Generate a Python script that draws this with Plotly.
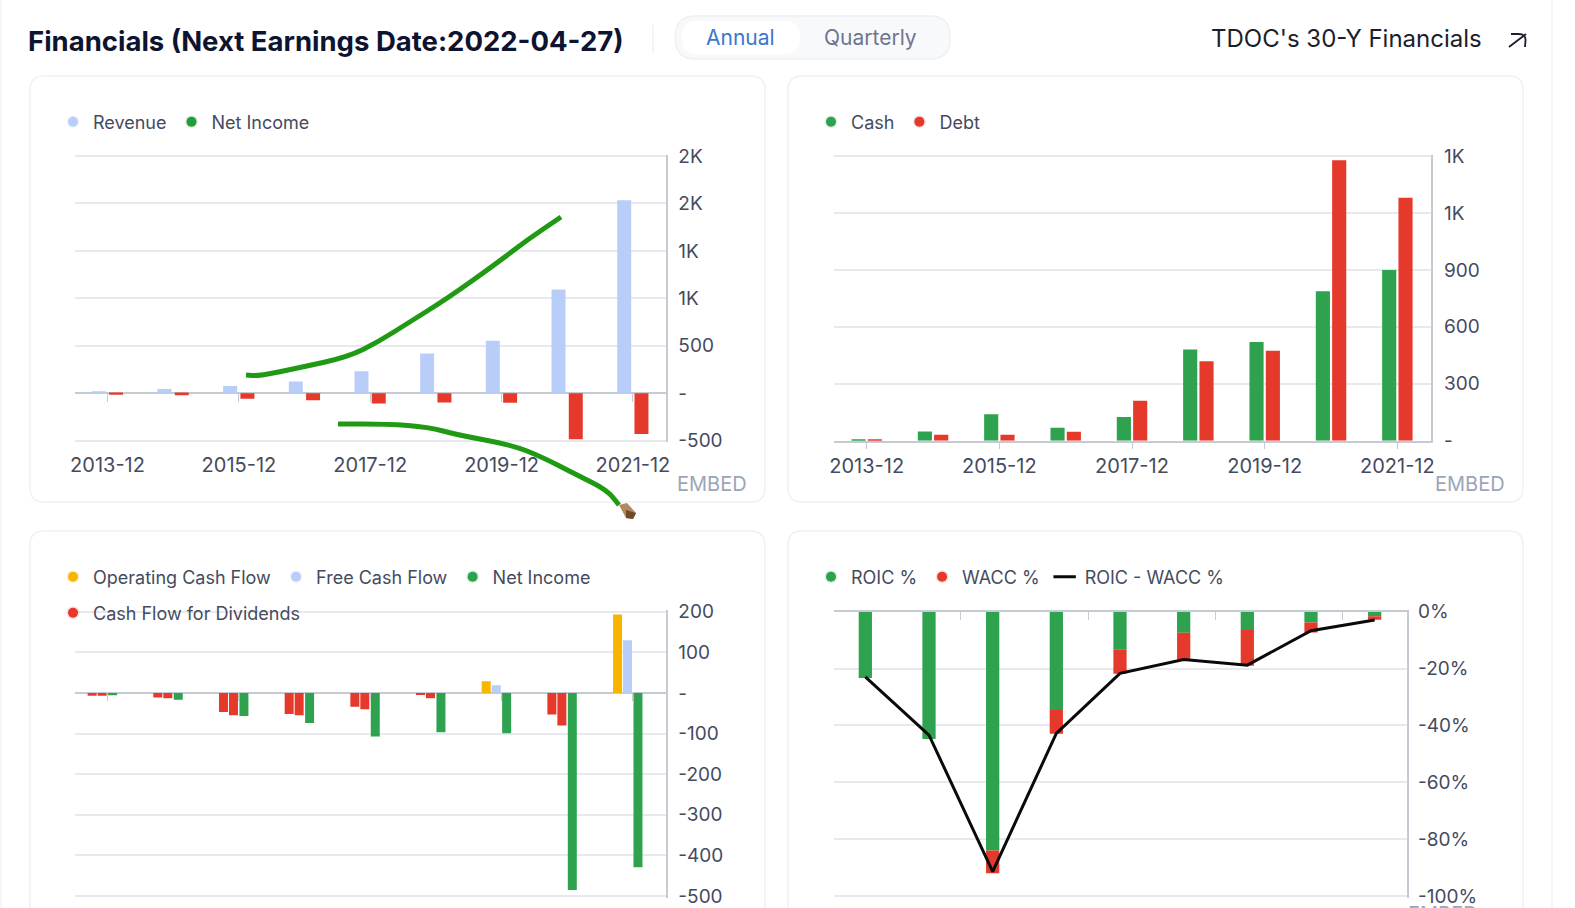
import plotly.graph_objects as go

W, H = 1575, 908
FONT = "Inter"
TXT = "#454b5e"
GRID = "#e7e9ef"
AXIS = "#c6cad2"
RED = "#e5392c"
GREEN = "#2ea24f"
LEG_GREEN = "#1f9e3a"
BLUE = "#b8cdf8"
YELLOW = "#f7b500"
STROKE = "#1f9a12"

years = ["2013-12", "2014-12", "2015-12", "2016-12", "2017-12", "2018-12", "2019-12", "2020-12", "2021-12"]

revenue = [20, 45, 77, 123, 233, 420, 553, 1094, 2033]
net_income = [-16, -20, -58, -74, -107, -97, -99, -485, -429]

cash = [8, 49, 140, 68, 125, 481, 520, 788, 899]
debt = [8, 31, 31, 47, 211, 418, 474, 1477, 1280]

op_cash_flow = [-7, -11, -47, -52, -34, -5, 29, -53, 193]
free_cash_flow = [-7, -13, -55, -55, -40, -13, 19, -80, 130]
net_income_cf = [-6, -17, -57, -74, -107, -97, -99, -485, -429]

roic = [-23.3, -44.8, -84.0, -34.6, -13.4, -7.4, -6.4, -3.8, -1.6]
wacc = [0, 0, -8.0, -8.3, -8.4, -9.4, -12.6, -3.5, -1.2]
roic_wacc = [-22.9, -43.4, -91.4, -42.8, -21.7, -16.8, -18.8, -6.7, -2.9]

ticks1 = [-500, 0, 500, 1000, 1500, 2000, 2500]
ticklabels1 = ["-500", "-", "500", "1K", "1K", "2K", "2K"]
ticks2 = [0, 300, 600, 900, 1200, 1500]
ticklabels2 = ["-", "300", "600", "900", "1K", "1K"]
ticks3 = [-500, -400, -300, -200, -100, 0, 100, 200]
ticklabels3 = ["-500", "-400", "-300", "-200", "-100", "-", "100", "200"]
ticks4 = [-100, -80, -60, -40, -20, 0]
ticklabels4 = ["-100%", "-80%", "-60%", "-40%", "-20%", "0%"]

stroke_upper = [(246, 375), (259, 376), (298, 368), (348, 357), (378, 342), (408, 323), (448, 298), (497, 263), (527, 240), (561, 217)]
stroke_lower = [(338, 424), (388, 424), (428, 427), (458, 435), (512, 445), (542, 457), (577, 475), (607, 490), (619, 505)]


def X(x):
    return x / W


def Y(y):
    return 1 - y / H


def rrect(x0, y0, x1, y1, r):
    pts = [
        f"M {X(x0 + r)} {Y(y0)}", f"L {X(x1 - r)} {Y(y0)}", f"Q {X(x1)} {Y(y0)} {X(x1)} {Y(y0 + r)}",
        f"L {X(x1)} {Y(y1 - r)}", f"Q {X(x1)} {Y(y1)} {X(x1 - r)} {Y(y1)}",
        f"L {X(x0 + r)} {Y(y1)}", f"Q {X(x0)} {Y(y1)} {X(x0)} {Y(y1 - r)}",
        f"L {X(x0)} {Y(y0 + r)}", f"Q {X(x0)} {Y(y0)} {X(x0 + r)} {Y(y0)}", "Z",
    ]
    return " ".join(pts)


def card(x0, y0, x1, y1, r=14, fill="#ffffff", line="#eef1f5", width=1.5):
    return dict(type="path", path=rrect(x0, y0, x1, y1, r), xref="paper", yref="paper",
                fillcolor=fill, line=dict(color=line, width=width), layer="below")


def polyline(points, color=STROKE, width=5):
    p = [f"M {X(points[0][0])} {Y(points[0][1])}"]
    for a, b in zip(points[:-1], points[1:]):
        mx, my = (a[0] + b[0]) / 2, (a[1] + b[1]) / 2
        p.append(f"Q {X(a[0])} {Y(a[1])} {X(mx)} {Y(my)}")
    p.append(f"L {X(points[-1][0])} {Y(points[-1][1])}")
    return dict(type="path", path=" ".join(p), xref="paper", yref="paper",
                line=dict(color=color, width=width), layer="above")


def polygon(points, fill):
    p = "M " + " L ".join(f"{X(a)} {Y(b)}" for a, b in points) + " Z"
    return dict(type="path", path=p, xref="paper", yref="paper", fillcolor=fill,
                line=dict(width=0), layer="above")


fig = go.Figure()


def bars(values, xa, ya, color, width, offset, base=None):
    fig.add_trace(go.Bar(x=years, y=values, xaxis=xa, yaxis=ya, marker=dict(color=color, line=dict(width=0)),
                         width=width, offset=offset, base=base, showlegend=False, hoverinfo="skip"))


def halo(c):
    r, g, b = int(c[1:3], 16), int(c[3:5], 16), int(c[5:7], 16)
    return f"rgba({r},{g},{b},0.16)"


def legend_item(name, color, legend, xa, ya, symbol="circle"):
    if symbol == "circle":
        m = dict(size=10, color=color, symbol="circle", line=dict(color=halo(color), width=3))
    else:
        m = dict(size=16, symbol=symbol, line=dict(color=color, width=3))
    fig.add_trace(go.Scatter(x=[None], y=[None], xaxis=xa, yaxis=ya, mode="markers", marker=m, name=name,
                             legend=legend, showlegend=True, hoverinfo="skip"))


# panel 1
bars(revenue, "x", "y", BLUE, 0.213, -0.24)
bars(net_income, "x", "y", RED, 0.213, 0.023)
legend_item("Revenue", BLUE, "legend", "x5", "y")
legend_item("Net Income", LEG_GREEN, "legend", "x5", "y")

# panel 2
bars(cash, "x2", "y2", GREEN, 0.213, -0.229)
bars(debt, "x2", "y2", RED, 0.213, 0.017)
legend_item("Cash", GREEN, "legend2", "x2", "y2")
legend_item("Debt", RED, "legend2", "x2", "y2")

# panel 3
bars(op_cash_flow, "x3", "y3", [YELLOW if v > 0 else RED for v in op_cash_flow], 0.137, -0.303)
bars(free_cash_flow, "x3", "y3", [BLUE if v > 0 else RED for v in free_cash_flow], 0.137, -0.151)
bars(net_income_cf, "x3", "y3", GREEN, 0.137, 0.008)
legend_item("Operating Cash Flow", YELLOW, "legend3", "x6", "y3")
legend_item("Free Cash Flow", BLUE, "legend3", "x6", "y3")
legend_item("Net Income", GREEN, "legend3", "x6", "y3")
legend_item("Cash Flow for Dividends", RED, "legend4", "x6", "y3")

# panel 4
bars(roic, "x4", "y4", GREEN, 0.208, -0.104)
bars(wacc, "x4", "y4", RED, 0.208, -0.104, base=roic)
fig.add_trace(go.Scatter(x=years, y=roic_wacc, xaxis="x4", yaxis="y4", mode="lines",
                         line=dict(color="#0a0a0a", width=3), showlegend=False, hoverinfo="skip"))
legend_item("ROIC %", GREEN, "legend5", "x4", "y4")
legend_item("WACC %", RED, "legend5", "x4", "y4")
legend_item("ROIC - WACC %", "#0a0a0a", "legend5", "x4", "y4", symbol="line-ew")

XFONT = dict(family=FONT, size=20, color=TXT)
YFONT = dict(family=FONT, size=19, color=TXT)


def xaxis(x0, x1, anchor, **kw):
    d = dict(domain=[X(x0), X(x1)], anchor=anchor, type="category", categoryorder="array", categoryarray=years,
             range=[-0.5, 8.5], dtick=2, tickangle=0, showgrid=False, zeroline=False, showline=False,
             tickfont=XFONT, fixedrange=True)
    d.update(kw)
    return d


def yaxis(y0, y1, anchor, lo, hi, vals, labels, pad_lo=1.5, pad_hi=1.5, **kw):
    # a small pad keeps the first and last gridlines from being dropped at the range ends
    u = (hi - lo) / (y1 - y0)
    d = dict(domain=[Y(y1 + pad_lo), Y(y0 - pad_hi)], anchor=anchor, side="right",
             range=[lo - pad_lo * u, hi + pad_hi * u], tickmode="array", tickvals=vals,
             ticktext=labels, showgrid=True, gridcolor=GRID, gridwidth=1.5, showline=True, linecolor=AXIS, linewidth=1.5,
             zeroline=False, ticks="outside", ticklen=7, tickcolor="rgba(0,0,0,0)", tickfont=YFONT, fixedrange=True)
    d.update(kw)
    return d


def legend(x, y):
    return dict(orientation="h", x=X(x), y=Y(y), xanchor="left", yanchor="middle", bgcolor="rgba(0,0,0,0)",
                font=dict(family=FONT, size=18, color=TXT), borderwidth=0, itemclick=False, itemdoubleclick=False,
                tracegroupgap=0, itemsizing="trace")


P1 = (74.7, 665.8, 156, 440.7)
P2 = (833.5, 1430.5, 156, 440.7)
P3 = (74.7, 665.8, 611.7, 896)
P4 = (833.5, 1406.5, 611.7, 896)

shapes = [
    card(1, -20, 1552, 940, r=22, line="#f1f3f6"),
    card(30, 76, 765, 502),
    card(788, 76, 1523, 502),
    card(30, 531, 765, 960),
    card(788, 531, 1523, 960),
    card(675.5, 16, 950, 59, r=20, fill="#f8f9fb", line="#eef0f3"),
    card(682, 21, 800, 54, r=16, fill="#ffffff", line="#ffffff", width=0.5),
    dict(type="line", xref="paper", yref="paper", x0=X(653), x1=X(653), y0=Y(25), y1=Y(53),
         line=dict(color="#eef0f3", width=1.5), layer="below"),
    polyline(stroke_upper),
    polyline(stroke_lower),
    polygon([(619, 505), (627, 503), (636, 513), (633, 519), (626, 518)], "#b08a5e"),
    polygon([(626, 510), (636, 513), (633, 519), (626, 518)], "#6f4a2c"),
    polyline([(1509, 47), (1526, 34)], color="#1a1d2b", width=1.8),
    polyline([(1511, 34), (1526, 34), (1525, 47)], color="#1a1d2b", width=1.8),
]

annotations = []


def text(s, x, y, size, color, anchor="left", weight=None, vanchor="middle", family=FONT):
    t = f"<b>{s}</b>" if weight == "bold" else s
    annotations.append(dict(text=t, x=X(x), y=Y(y), xref="paper", yref="paper", showarrow=False, xanchor=anchor,
                            yanchor=vanchor, font=dict(family=family, size=size, color=color)))


text("Financials (Next Earnings Date:2022-04-27)", 26, 41, 27.5, "#0e1430", weight="bold")
text("Annual", 740, 37, 21, "#3a78cc", anchor="center")
text("Quarterly", 871, 37, 21, "#6d7590", anchor="center")
text("TDOC's 30-Y Financials", 1209, 39, 24, "#1b1e2b")
text("EMBED", 712, 484, 20, "#9aa6b8", anchor="center")
text("EMBED", 1470, 484, 20, "#9aa6b8", anchor="center")
text("EMBED", 1443, 900, 20, "#9aa6b8", anchor="center", vanchor="top")

fig.update_layout(
    width=W, height=H, autosize=False, margin=dict(l=0, r=0, t=0, b=0, pad=0, autoexpand=False), paper_bgcolor="#ffffff",
    plot_bgcolor="rgba(0,0,0,0)", barmode="overlay", hovermode=False, dragmode=False,
    shapes=shapes, annotations=annotations,
    xaxis=xaxis(P1[0], P1[1], "y", ticks="outside", ticklen=4.5, tickcolor="rgba(0,0,0,0)"),
    yaxis=yaxis(P1[2], P1[3], "x", -500, 2500, ticks1, ticklabels1, zeroline=True, zerolinecolor=AXIS, zerolinewidth=2),
    xaxis5=xaxis(P1[0], P1[1], "free", overlaying="x", position=Y(393), showticklabels=False, ticks="outside",
                 ticklen=8, tickcolor=AXIS, tickwidth=1),
    xaxis2=xaxis(P2[0], P2[1], "y2", showline=True, linecolor=AXIS, linewidth=2, ticks="outside", ticklen=6,
                 tickcolor=AXIS, tickwidth=1),
    yaxis2=yaxis(P2[2], P2[3], "x2", 0, 1500, ticks2, ticklabels2, pad_lo=0, ticklen=8),
    xaxis3=xaxis(P3[0], P3[1], "y3", showticklabels=False),
    yaxis3=yaxis(P3[2], P3[3], "x3", -500, 200, ticks3, ticklabels3, zeroline=True, zerolinecolor=AXIS, zerolinewidth=2),
    xaxis6=xaxis(P3[0], P3[1], "free", overlaying="x3", position=Y(692.3), showticklabels=False, ticks="outside",
                 ticklen=8, tickcolor=AXIS, tickwidth=1),
    xaxis4=xaxis(P4[0], P4[1], "y4", side="top", showticklabels=False, showline=True, linecolor=AXIS, linewidth=2,
                 ticks="inside", ticklen=8, tickcolor=AXIS, tickwidth=1, tickson="boundaries"),
    yaxis4=yaxis(P4[2], P4[3], "x4", -100, 0, ticks4, ticklabels4, pad_hi=0, ticklen=6),
    legend=legend(53, 122),
    legend2=legend(811, 122),
    legend3=legend(53, 577),
    legend4=legend(53, 613),
    legend5=legend(811, 577),
)

fig.write_html("out.html", config=dict(displayModeBar=False),
               post_script="document.body.style.margin='0';document.body.style.overflow='hidden';")
